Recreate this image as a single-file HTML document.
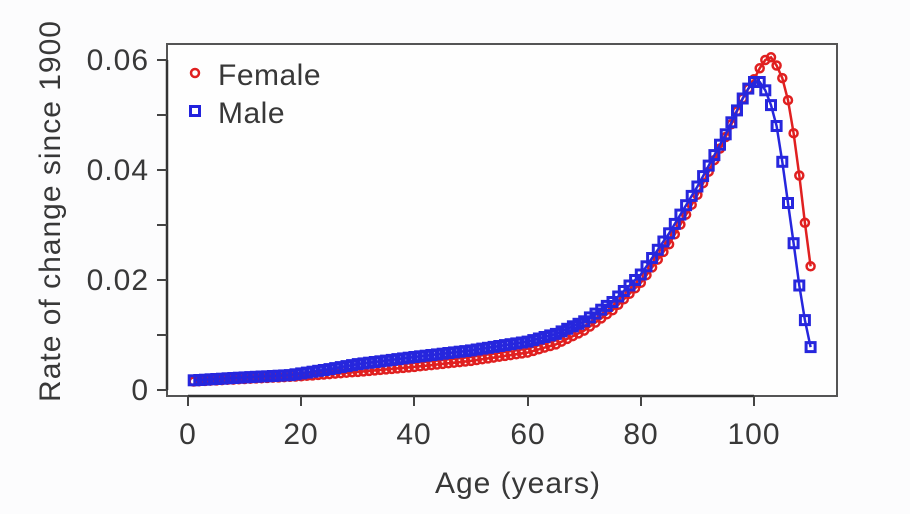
<!DOCTYPE html>
<html><head><meta charset="utf-8"><style>
html,body{margin:0;padding:0;background:#fcfcfd;}
svg{display:block;font-family:"Liberation Sans",sans-serif;}
</style></head><body>
<svg id="s" width="910" height="514" viewBox="0 0 910 514">
<rect width="910" height="514" fill="#fcfcfd"/>
<rect x="167" y="44" width="670" height="352" fill="#fefefe" stroke="#555" stroke-width="2"/>
<g stroke="#333" stroke-width="2.5">
<line x1="167" y1="60" x2="167" y2="390"/>
<line x1="188" y1="396" x2="754" y2="396"/>
</g>
<g stroke="#444" stroke-width="2">
<line x1="157" y1="60" x2="167" y2="60"/><line x1="157" y1="115" x2="167" y2="115"/>
<line x1="157" y1="170" x2="167" y2="170"/><line x1="157" y1="225" x2="167" y2="225"/>
<line x1="157" y1="280" x2="167" y2="280"/><line x1="157" y1="335" x2="167" y2="335"/>
<line x1="157" y1="390" x2="167" y2="390"/>
<line x1="188" y1="396" x2="188" y2="406"/><line x1="301" y1="396" x2="301" y2="406"/>
<line x1="414" y1="396" x2="414" y2="406"/><line x1="528" y1="396" x2="528" y2="406"/>
<line x1="641" y1="396" x2="641" y2="406"/><line x1="754" y1="396" x2="754" y2="406"/>
</g>
<g fill="#383838" font-size="30" letter-spacing="1" text-anchor="end">
<text x="149" y="70">0.06</text><text x="149" y="180">0.04</text>
<text x="149" y="290">0.02</text><text x="149" y="400">0</text>
</g>
<g fill="#383838" font-size="30" letter-spacing="1" text-anchor="middle">
<text x="188" y="444">0</text><text x="301" y="444">20</text><text x="414" y="444">40</text>
<text x="528" y="444">60</text><text x="641" y="444">80</text><text x="754" y="444">100</text>
<text x="518" y="493">Age (years)</text>
<text transform="translate(60,211) rotate(-90)">Rate of change since 1900</text>
</g>
<circle cx="195" cy="73" r="4" fill="none" stroke="#e02020" stroke-width="2.5"/>
<rect x="190.5" y="106.5" width="9" height="9" fill="none" stroke="#2222dd" stroke-width="3"/>
<g fill="#383838" font-size="30" letter-spacing="0.5"><text x="218" y="85">Female</text><text x="218" y="123">Male</text></g>
<g id="d"></g>
</svg>
<script>
var F=[[0,.0015],[10,.002],[20,.0025],[30,.0033],[40,.0042],[50,.0053],[60,.0068],[65,.0083],[70,.0108],[75,.0145],[80,.0195],[85,.0265],[90,.0355],[95,.046],[98,.053],[100,.0565],[101,.0585],[102,.06],[103,.0605],[104,.059],[105,.0567],[106,.0527],[107,.0467],[108,.039],[109,.0304],[110,.0225]];
var M=[[0,.0017],[10,.0023],[18,.0027],[25,.0038],[30,.0047],[40,.006],[50,.0072],[60,.0088],[65,.0102],[70,.0125],[75,.016],[80,.021],[85,.0285],[90,.037],[95,.0465],[98,.053],[99,.0548],[100,.056],[101,.056],[102,.0545],[103,.0518],[104,.048],[105,.0415],[106,.034],[107,.0267],[108,.019],[109,.0127],[110,.0078]];
function v(K,a){for(var i=0;i<K.length-1;i++){if(a>=K[i][0]&&a<=K[i+1][0]){var t=(a-K[i][0])/(K[i+1][0]-K[i][0]);return K[i][1]+t*(K[i+1][1]-K[i][1]);}}return K[K.length-1][1];}
function X(a){return 188+a*5.66}function Y(q){return 390-q*5500}
var h='';
function series(K,col,sq){var p='';for(var a=1;a<=110;a++){p+=(a==1?'M':'L')+X(a).toFixed(1)+','+Y(v(K,a)).toFixed(1);}
h+='<path d="'+p+'" fill="none" stroke="'+col+'" stroke-width="2.5"/>';
for(var a=1;a<=110;a++){var x=X(a),y=Y(v(K,a));
if(sq)h+='<rect x="'+(x-4.5).toFixed(1)+'" y="'+(y-4.5).toFixed(1)+'" width="9" height="9" fill="none" stroke="'+col+'" stroke-width="3"/>';
else h+='<circle cx="'+x.toFixed(1)+'" cy="'+y.toFixed(1)+'" r="4" fill="none" stroke="'+col+'" stroke-width="2.5"/>';}}
series(F,'#e02020',false);series(M,'#2626dd',true);
document.getElementById('d').innerHTML=h;
</script>
</body></html>
